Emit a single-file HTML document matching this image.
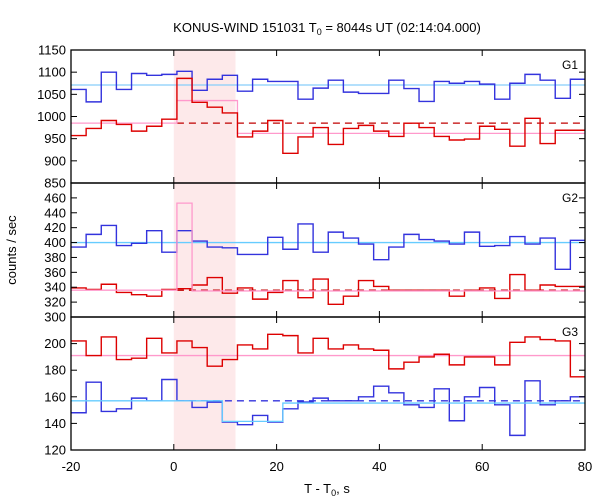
<!DOCTYPE html>
<html><head><meta charset="utf-8"><style>
body{margin:0;background:#fff}
svg{display:block;font-family:"Liberation Sans","DejaVu Sans",sans-serif}
</style></head><body>
<svg id="c" width="600" height="500" xmlns="http://www.w3.org/2000/svg"></svg>
<script>
const xTicks=[-20,0,20,40,60,80];
const binStart=-20, binWidth=2.944;
const g1Blue=[1061,1033,1100,1061,1097,1093,1095,1102,1059,1084,1093,1057,1084,1079,1079,1039,1064,1082,1055,1052,1052,1082,1063,1034,1079,1075,1079,1073,1039,1075,1095,1082,1041,1084,1090];
const g1Red=[957,973,991,982,967,978,994,1086,1032,1021,1008,954,967,991,917,954,975,937,973,980,967,955,985,975,955,947,949,978,971,933,996,939,969,969,960];
const g2Blue=[394,411,423,396,399,416,387,416,402,394,393,384,384,407,391,425,387,414,406,398,377,394,411,404,402,398,414,395,396,408,398,406,364,403,419];
const g2Red=[339,337,344,333,330,328,337,338,343,353,332,339,324,333,349,326,351,317,328,349,341,336,336,336,336,328,336,339,325,357,336,343,341,341,324];
const g3Red=[202,191,205,188,189,204,193,202,197,183,188,199,196,207,206,193,204,196,199,196,195,181,186,190,192,184,190,190,184,201,205,203,202,175,195];
const g3Blue=[148,171,149,151,159,157,173,157,152,156,141,139,146,141,151,156,159,157,157,160,168,163,154,152,166,142,160,167,154,131,172,154,157,160,151];
const g1Yticks=[850,900,950,1000,1050,1100,1150];
const g2Yticks=[300,320,340,360,380,400,420,440,460];
const g3Yticks=[120,140,160,180,200];
const g1BlueAvg=1071, g1RedAvg=985, g1Pink=[985,1036,962];
const g2BlueAvg=400, g2RedAvg=336, g2Pink=[336,453,335];
const g3PinkAvg=191, g3BlueAvg=157, g3Cyan=[157,141.5,155.3];

const NS="http://www.w3.org/2000/svg";
const svg=document.getElementById('c');
const L=71,R=585;
const X=v=>L+(v+20)*(R-L)/100;
function el(t,a,p){const e=document.createElementNS(NS,t);for(const k in a)e.setAttribute(k,a[k]);(p||svg).appendChild(e);return e;}
const panels=[
 {top:50,bot:183,min:850,max:1150,ticks:g1Yticks,name:'g1',label:'G1'},
 {top:183,bot:317,min:300,max:480,ticks:g2Yticks,name:'g2',label:'G2'},
 {top:317,bot:450,min:120,max:220,ticks:g3Yticks,name:'g3',label:'G3'}];
let sh=el('rect',{x:X(0),y:50,width:X(12)-X(0),height:400,fill:'#fde9ea'});


function stepPath(vals,Y){let d='';vals.forEach((v,i)=>{let x0=Math.max(L,X(binStart+i*binWidth)),x1=Math.min(R,X(binStart+(i+1)*binWidth));if(x0>=R)return;d+=(i?'L':'M')+x0+' '+Y(v)+'L'+x1+' '+Y(v);});return d;}
function hline(g,x0,x1,y,col,dash,name){const e=el('line',{x1:X(x0),x2:X(x1),y1:y,y2:y,stroke:col,'stroke-width':1.3,'stroke-dasharray':dash||'none'},g);}
function pinkSteps(g,vals,Y,col,name,nb){const t0=binStart+7*binWidth,t1=binStart+(7+nb)*binWidth;
 const d=`M${L} ${Y(vals[0])}L${X(t0)} ${Y(vals[0])}L${X(t0)} ${Y(vals[1])}L${X(t1)} ${Y(vals[1])}L${X(t1)} ${Y(vals[2])}L${R} ${Y(vals[2])}`;
 const e=el('path',{d,fill:'none',stroke:col,'stroke-width':1.3},g);}
function series(g,vals,Y,col,name){const e=el('path',{d:stepPath(vals,Y),fill:'none',stroke:col,'stroke-width':1.4},g);}
const t0=binStart+7*binWidth;
panels.forEach((p,pi)=>{
 const Y=v=>p.bot-(v-p.min)*(p.bot-p.top)/(p.max-p.min);
 const g=el('g',{});
 if(pi==0){hline(g,-20,80,Y(g1BlueAvg),'#87cefa',null,'g1-blue-average');
  series(g,g1Blue,Y,'#3333dd','g1-blue-series');
  hline(g,t0,80,Y(g1RedAvg),'#c00000','7,5','g1-red-average');
  pinkSteps(g,g1Pink,Y,'#ff99cc','g1-pink-background',4);
  series(g,g1Red,Y,'#dd0000','g1-red-series');}
 if(pi==1){hline(g,-20,80,Y(g2BlueAvg),'#66ccff',null,'g2-blue-average');
  series(g,g2Blue,Y,'#3333dd','g2-blue-series');
  series(g,g2Red,Y,'#dd0000','g2-red-series');
  hline(g,t0,80,Y(g2RedAvg),'#c00000','7,5','g2-red-average');
  pinkSteps(g,g2Pink,Y,'#ff99cc','g2-pink-background',1);}
 if(pi==2){hline(g,-20,80,Y(g3PinkAvg),'#ff99cc',null,'g3-pink-average');
  series(g,g3Red,Y,'#dd0000','g3-red-series');
  series(g,g3Blue,Y,'#3333dd','g3-blue-series');
  hline(g,t0,80,Y(g3BlueAvg),'#3333dd','7,5','g3-blue-average');
  const a=binStart+10*binWidth,b=binStart+14*binWidth;
  const d=`M${L} ${Y(g3Cyan[0])}L${X(a)} ${Y(g3Cyan[0])}L${X(a)} ${Y(g3Cyan[1])}L${X(b)} ${Y(g3Cyan[1])}L${X(b)} ${Y(g3Cyan[2])}L${R} ${Y(g3Cyan[2])}`;
  const e=el('path',{d,fill:'none',stroke:'#66ccff','stroke-width':1.3},g);
  
  }
 const fr=el('rect',{x:L,y:p.top,width:R-L,height:p.bot-p.top,fill:'none',stroke:'#000','stroke-width':1.3},g);
 
 p.ticks.forEach(v=>{const y=Y(v);
  el('line',{x1:L,x2:L+6,y1:y,y2:y,stroke:'#000'},g);el('line',{x1:R-6,x2:R,y1:y,y2:y,stroke:'#000'},g);
  const t=el('text',{x:L-5,y:y+4.5,'text-anchor':'end','font-size':13},g);t.textContent=v;
  });
 xTicks.forEach(v=>{const x=X(v);el('line',{x1:x,x2:x,y1:p.bot,y2:p.bot-6,stroke:'#000'},g);el('line',{x1:x,x2:x,y1:p.top,y2:p.top+6,stroke:'#000'},g);});
 const lb=el('text',{x:578,y:p.top+19,'text-anchor':'end','font-size':12},g);lb.textContent=p.label;
 
});
xTicks.forEach(v=>{const t=el('text',{x:X(v),y:471,'text-anchor':'middle','font-size':13});t.textContent=v;
 });
</script>
<svg style="position:absolute;left:0;top:0" width="600" height="500">
<text x="327" y="32" text-anchor="middle" font-size="13" font-family="Liberation Sans, sans-serif">KONUS-WIND 151031 T<tspan font-size="9" dy="3">0</tspan><tspan dy="-3"> = 8044s UT (02:14:04.000)</tspan></text>
<text x="327" y="493" text-anchor="middle" font-size="13" font-family="Liberation Sans, sans-serif">T - T<tspan font-size="9" dy="3">0</tspan><tspan dy="-3">, s</tspan></text>
<text transform="translate(16,250) rotate(-90)" text-anchor="middle" font-size="13" font-family="Liberation Sans, sans-serif">counts / sec</text>
</svg>
</body></html>
